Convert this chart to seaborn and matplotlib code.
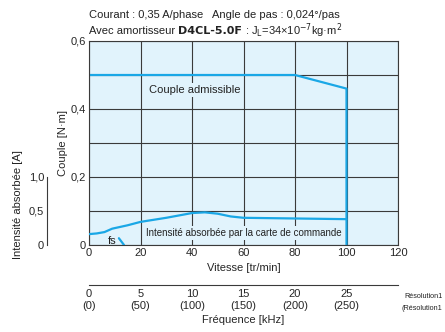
import numpy as np
import pandas as pd
import matplotlib
matplotlib.use("Agg")
import matplotlib.pyplot as plt
import seaborn as sns

# donnees
vitesse_couple = [0, 80, 100, 100]
couple = [0.5, 0.5, 0.46, 0.0]

vitesse_courant = [0, 3, 6, 9, 15, 20, 30, 40, 45, 50, 55, 60, 80, 100]
courant = [0.16, 0.17, 0.19, 0.24, 0.29, 0.34, 0.40, 0.47, 0.48, 0.46, 0.42, 0.40, 0.39, 0.38]

vitesse_fs = [11.6, 13.6]
courant_fs = [0.10, 0.0]

vitesse_ticks = [0, 20, 40, 60, 80, 100, 120]
couple_ticks = [0, 0.2, 0.4, 0.6]
couple_labels = ["0", "0,2", "0,4", "0,6"]
courant_ticks = [0, 0.5, 1.0]
courant_labels = ["0", "0,5", "1,0"]
freq_ticks = [0, 5, 10, 15, 20, 25]
freq_labels = ["0\n(0)", "5\n(50)", "10\n(100)", "15\n(150)", "20\n(200)", "25\n(250)"]

BLEU = "#1aa7e6"
FOND = "#e1f3fc"
GRILLE = "#3a3a3a"
FS = 8

sns.set_style("white")
plt.rcParams["font.family"] = ["Liberation Sans", "DejaVu Sans"]
plt.rcParams["font.size"] = FS
plt.rcParams["text.color"] = "#222222"

W, H = 445, 332
fig = plt.figure(figsize=(W / 100, H / 100), dpi=100)


def rect(x0, y0, x1, y1):
    return [x0 / W, 1 - y1 / H, (x1 - x0) / W, (y1 - y0) / H]


# axe principal : couple
ax = fig.add_axes(rect(89, 41, 398, 245))
ax.set_facecolor(FOND)
df_c = pd.DataFrame({"v": vitesse_couple, "c": couple})
sns.lineplot(data=df_c, x="v", y="c", ax=ax, color=BLEU, lw=1.6,
             sort=False, estimator=None)
ax.set_xlim(0, 120)
ax.set_ylim(0, 0.6)
ax.set_xticks(vitesse_ticks)
ax.set_xticklabels([str(v) for v in vitesse_ticks], fontsize=FS)
ax.set_yticks(couple_ticks)
ax.set_yticklabels(couple_labels, fontsize=FS)
ax.set_yticks(np.arange(0.1, 0.6, 0.2), minor=True)
ax.grid(True, which="both", color=GRILLE, lw=0.8)
ax.tick_params(which="both", length=0, pad=2)
for s in ax.spines.values():
    s.set_color(GRILLE)
    s.set_linewidth(0.8)
ax.set_xlabel("Vitesse [tr/min]", fontsize=FS, labelpad=4)
ax.set_ylabel("Couple [N·m]", fontsize=FS, labelpad=2)
boite = dict(facecolor=FOND, edgecolor="none", pad=1.5)
ax.text(23.3, 0.455, "Couple admissible", fontsize=FS, va="center", bbox=boite, zorder=3)
ax.text(22.3, 0.034, "Intensité absorbée par la carte de commande", fontsize=7,
        va="center", bbox=boite, zorder=3)
ax.text(7.3, 0.013, "fs", fontsize=FS, va="center")

# courant absorbe, echelle 1,0 A = 0,2 N·m
ax2 = fig.add_axes(rect(89, 41, 398, 245))
ax2.patch.set_visible(False)
df_i = pd.DataFrame({"v": vitesse_courant, "i": courant})
sns.lineplot(data=df_i, x="v", y="i", ax=ax2, color=BLEU, lw=1.6)
df_fs = pd.DataFrame({"v": vitesse_fs, "i": courant_fs})
sns.lineplot(data=df_fs, x="v", y="i", ax=ax2, color=BLEU, lw=1.6)
ax2.set_xlim(0, 120)
ax2.set_ylim(0, 3.0)
for k in ["top", "right", "bottom"]:
    ax2.spines[k].set_visible(False)
ax2.spines["left"].set_position(("axes", -42 / 309))
ax2.spines["left"].set_bounds(0, 1.0)
ax2.spines["left"].set_color(GRILLE)
ax2.spines["left"].set_linewidth(0.8)
ax2.set_xticks([])
ax2.set_yticks(courant_ticks)
ax2.set_yticklabels(courant_labels, fontsize=FS)
ax2.tick_params(axis="y", direction="in", length=3, width=0.8, color=GRILLE, pad=2)
ax2.set_xlabel("")
ax2.set_ylabel("")
fig.text(18 / W, 1 - 205 / H, "Intensité absorbée [A]", rotation=90,
         ha="center", va="center", fontsize=FS)

# axe des frequences
ax3 = fig.add_axes(rect(89, 284, 398, 285))
ax3.patch.set_visible(False)
ax3.set_xlim(0, 30)
for k in ["top", "right", "left"]:
    ax3.spines[k].set_visible(False)
ax3.spines["bottom"].set_color(GRILLE)
ax3.spines["bottom"].set_linewidth(0.8)
ax3.set_yticks([])
ax3.set_xticks(freq_ticks)
ax3.set_xticklabels(freq_labels, fontsize=FS, linespacing=1.25)
ax3.tick_params(axis="x", direction="in", length=3, width=0.8, color=GRILLE, pad=3)
ax3.set_xlabel("Fréquence [kHz]", fontsize=FS, labelpad=3)
fig.text(404 / W, 1 - 296 / H, "Résolution1", fontsize=5.2, va="center")
fig.text(402 / W, 1 - 308 / H, "(Résolution1", fontsize=5.2, va="center")

# titres
fig.text(89 / W, 1 - 15 / H,
         "Courant : 0,35 A/phase   Angle de pas : 0,024°/pas",
         fontsize=FS, va="center")
t1 = fig.text(89 / W, 1 - 31 / H, "Avec amortisseur ", fontsize=FS, va="center")
fig.canvas.draw()
bb = t1.get_window_extent()
t2 = fig.text(bb.x1 / W, 1 - 31 / H, "D4CL-5.0F", fontsize=FS,
              fontweight="bold", family="DejaVu Sans", va="center")
fig.canvas.draw()
bb2 = t2.get_window_extent()
fig.text(bb2.x1 / W, 1 - 31 / H, " : J$_{\\rm L}$=34×10$^{-7}$kg·m$^2$",
         fontsize=FS, va="center")

fig.savefig("out.png", dpi=100)
